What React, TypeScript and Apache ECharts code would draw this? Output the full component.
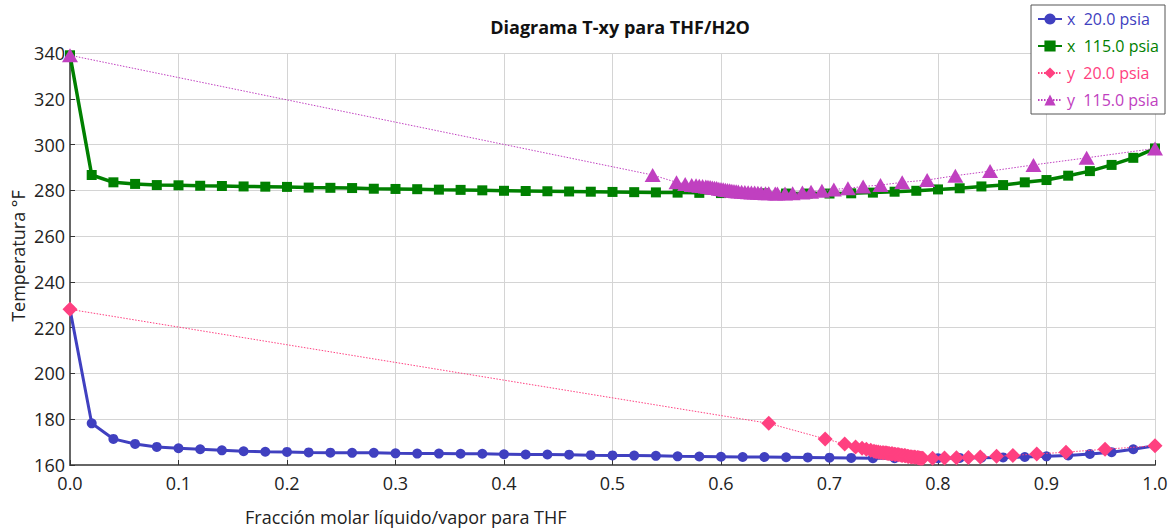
import React, { useEffect, useRef } from "react";
import * as echarts from "echarts";

// Liquid mole fraction of THF (x) on the computed grid
const xGrid = [
  0.0, 0.02, 0.04, 0.06, 0.08, 0.1, 0.12, 0.14, 0.16, 0.18,
  0.2, 0.22, 0.24, 0.26, 0.28, 0.3, 0.32, 0.34, 0.36, 0.38,
  0.4, 0.42, 0.44, 0.46, 0.48, 0.5, 0.52, 0.54, 0.56, 0.58,
  0.6, 0.62, 0.64, 0.66, 0.68, 0.7, 0.72, 0.74, 0.76, 0.78,
  0.8, 0.82, 0.84, 0.86, 0.88, 0.9, 0.92, 0.94, 0.96, 0.98, 1.0,
];

// Bubble temperatures (°F) at 20 psia
const temp20 = [
  228.0, 178.2, 171.4, 169.2, 167.9, 167.3, 166.9, 166.4, 166.0, 165.8,
  165.7, 165.5, 165.4, 165.3, 165.3, 165.1, 165.0, 165.0, 164.9, 164.9,
  164.7, 164.6, 164.6, 164.5, 164.3, 164.2, 164.1, 164.0, 163.8, 163.7,
  163.6, 163.5, 163.5, 163.4, 163.3, 163.2, 163.1, 163.0, 163.0, 163.0,
  163.0, 163.1, 163.2, 163.3, 163.5, 163.8, 164.2, 164.8, 165.6, 166.9, 168.4,
];

// Vapor mole fraction of THF (y) in equilibrium at 20 psia
const yVap20 = [
  0.0, 0.644, 0.696, 0.714, 0.724, 0.73, 0.734, 0.738, 0.741, 0.743,
  0.745, 0.747, 0.749, 0.75, 0.752, 0.753, 0.754, 0.755, 0.757, 0.758,
  0.76, 0.761, 0.763, 0.764, 0.766, 0.767, 0.769, 0.77, 0.772, 0.773,
  0.775, 0.776, 0.778, 0.779, 0.781, 0.782, 0.783, 0.784, 0.785, 0.786,
  0.795, 0.806, 0.817, 0.828, 0.839, 0.854, 0.869, 0.891, 0.918, 0.954, 1.0,
];

// Bubble temperatures (°F) at 115 psia
const temp115 = [
  339.0, 286.7, 283.5, 282.8, 282.3, 282.2, 282.0, 281.9, 281.7, 281.6,
  281.5, 281.2, 281.1, 281.0, 280.7, 280.6, 280.5, 280.3, 280.2, 280.0,
  279.8, 279.7, 279.6, 279.5, 279.4, 279.3, 279.2, 279.1, 279.0, 278.9,
  278.8, 278.7, 278.7, 278.6, 278.6, 278.6, 278.7, 279.0, 279.4, 279.8,
  280.4, 280.9, 281.7, 282.3, 283.5, 284.5, 286.4, 288.4, 291.1, 294.2, 298.3,
];

// Vapor mole fraction of THF (y) in equilibrium at 115 psia
const yVap115 = [
  0.0, 0.537, 0.559, 0.567, 0.573, 0.577, 0.58, 0.583, 0.586, 0.588,
  0.59, 0.592, 0.594, 0.596, 0.598, 0.6, 0.602, 0.604, 0.606, 0.608,
  0.61, 0.612, 0.614, 0.616, 0.619, 0.622, 0.625, 0.628, 0.631, 0.634,
  0.637, 0.641, 0.644, 0.65, 0.652, 0.659, 0.666, 0.675, 0.683, 0.693,
  0.704, 0.717, 0.731, 0.747, 0.767, 0.79, 0.816, 0.848, 0.888, 0.937, 1.0,
];

const seriesNames = ["x  20.0 psia", "x  115.0 psia", "y  20.0 psia", "y  115.0 psia"];
const seriesColors = ["#4040c0", "#008000", "#ff4080", "#c040c0"];

const FONT = "'Open Sans', 'Noto Sans', sans-serif";

const pairs = (xs: number[], ts: number[]) => xs.map((v, i) => [v, ts[i]]);

export default function App() {
  const ref = useRef<HTMLDivElement>(null);

  useEffect(() => {
    if (!ref.current) return;
    const chart = echarts.init(ref.current, null, { renderer: "svg" });

    chart.setOption({
      animation: false,
      backgroundColor: "#ffffff",
      textStyle: { fontFamily: FONT },
      title: {
        text: "Diagrama T-xy para THF/H2O",
        left: 615,
        top: 13,
        textAlign: "center",
        textStyle: { fontFamily: FONT, fontSize: 18, fontWeight: "bold", color: "#111" },
      },
      legend: {
        orient: "vertical",
        right: 6,
        top: 5,
        padding: [6, 6, 6, 6],
        itemGap: 11,
        itemWidth: 24,
        itemHeight: 14,
        backgroundColor: "#ffffff",
        borderColor: "#555",
        borderWidth: 1,
        borderRadius: 0,
        data: seriesNames.map((n, i) => ({
          name: n,
          textStyle: { color: seriesColors[i], fontFamily: FONT, fontSize: 16 },
        })),
      },
      grid: { left: 70, right: 16, top: 53, bottom: 66 },
      xAxis: {
        type: "value",
        min: 0,
        max: 1,
        interval: 0.1,
        axisLine: { show: true, onZero: false, lineStyle: { color: "#666", width: 2 } },
        axisTick: { show: true, inside: true, length: 5, lineStyle: { color: "#333" } },
        axisLabel: {
          color: "#222",
          fontSize: 18,
          fontFamily: FONT,
          margin: 9,
          formatter: (v: number) => v.toFixed(1),
        },
        splitLine: { show: true, lineStyle: { color: "#d4d4d4", width: 1 } },
      },
      yAxis: {
        type: "value",
        min: 160,
        max: 340,
        interval: 20,
        axisLine: { show: true, onZero: false, lineStyle: { color: "#666", width: 2 } },
        axisTick: { show: true, inside: true, length: 5, lineStyle: { color: "#333" } },
        axisLabel: { color: "#222", fontSize: 18, fontFamily: FONT, margin: 5 },
        splitLine: { show: true, lineStyle: { color: "#d4d4d4", width: 1 } },
      },
      graphic: [
        {
          type: "text",
          left: 245,
          top: 508,
          style: {
            text: "Fracción molar líquido/vapor para THF",
            fontFamily: FONT,
            fontSize: 18,
            fill: "#222",
          },
        },
        {
          type: "text",
          x: 18,
          y: 256,
          rotation: Math.PI / 2,
          style: {
            text: "Temperatura °F",
            fontFamily: FONT,
            fontSize: 18,
            fill: "#222",
            align: "center",
            verticalAlign: "middle",
          },
        },
      ],
      series: [
        {
          name: seriesNames[0],
          type: "line",
          data: pairs(xGrid, temp20),
          symbol: "circle",
          symbolSize: 10,
          itemStyle: { color: seriesColors[0] },
          lineStyle: { color: seriesColors[0], width: 3 },
          z: 2,
        },
        {
          name: seriesNames[1],
          type: "line",
          data: pairs(xGrid, temp115),
          symbol: "rect",
          symbolSize: 10,
          itemStyle: { color: seriesColors[1] },
          lineStyle: { color: seriesColors[1], width: 3.5 },
          z: 2,
        },
        {
          name: seriesNames[2],
          type: "line",
          data: pairs(yVap20, temp20),
          symbol: "diamond",
          symbolSize: 15,
          itemStyle: { color: seriesColors[2] },
          lineStyle: { color: seriesColors[2], width: 1, type: [1.5, 1.5] },
          z: 3,
        },
        {
          name: seriesNames[3],
          type: "line",
          data: pairs(yVap115, temp115),
          symbol: "triangle",
          symbolSize: [16, 14],
          itemStyle: { color: seriesColors[3] },
          lineStyle: { color: seriesColors[3], width: 1, type: [1.5, 1.5] },
          z: 3,
        },
      ],
    });

    return () => chart.dispose();
  }, []);

  return (
    <div
      ref={ref}
      style={{ position: "fixed", left: 0, top: 0, width: 1171, height: 531 }}
    />
  );
}
